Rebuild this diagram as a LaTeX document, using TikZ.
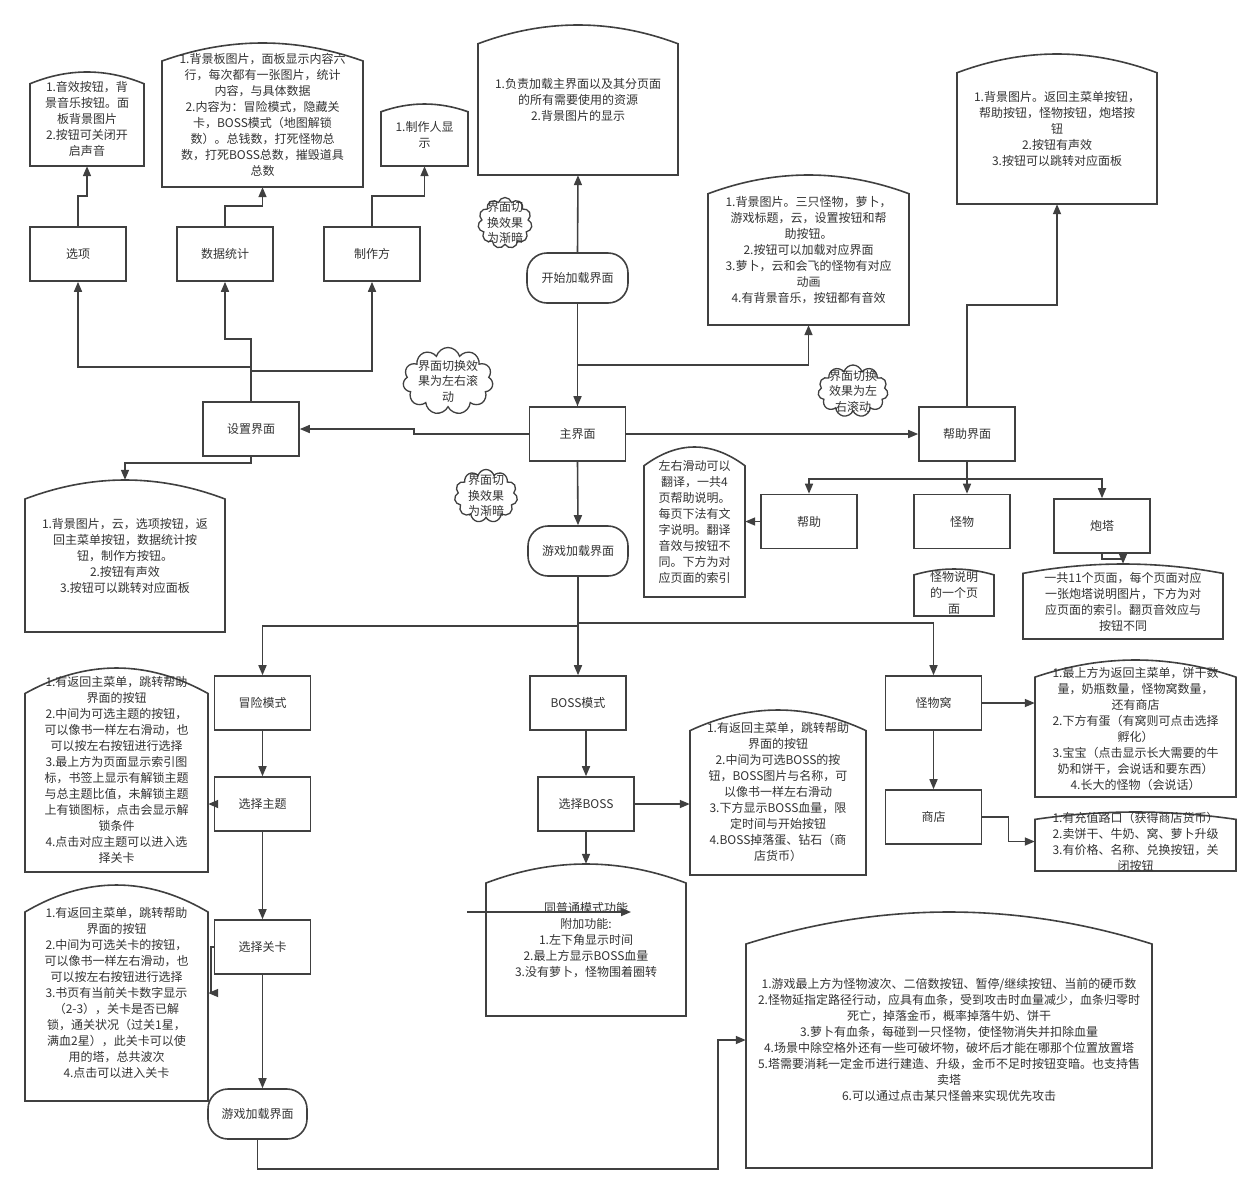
\documentclass[tikz,border=0pt]{standalone}
\usepackage{fontspec}
\setmainfont{Noto Sans CJK SC}
\usetikzlibrary{arrows.meta,shapes.symbols}
\definecolor{linec}{HTML}{404040}
\definecolor{txtc}{HTML}{333333}
\newcommand\myfs{\fontsize{12pt}{16pt}\selectfont}
\newcommand\mycard[6]{%
  \pgfmathsetmacro\cardA{0.125*(#5-#3)}%
  \pgfmathsetmacro\cardW{(#4-#2)/3}%
  \draw[cardline] ({#2},{#5}) -- ({#2},{#3+\cardA}) .. controls ({#2+\cardW},{#3-\cardA/3}) and ({#4-\cardW},{#3-\cardA/3}) .. ({#4},{#3+\cardA}) -- ({#4},{#5}) -- cycle;
  \node[cardtext, minimum width={(#4-#2)*1pt}, minimum height={(#5-#3)*1pt}] (#1) at ({(#2+#4)/2},{(#3+#5)/2}) {#6};
}
\tikzset{
  box/.style={draw=linec, line width=1.6pt, fill=white, minimum width=96pt, minimum height=54pt, inner sep=0pt, font=\myfs, text=txtc},
  stadium/.style={box, rounded corners=20pt, minimum width=100pt, minimum height=50pt},
  conn/.style={draw=linec, line width=1.6pt, -{Triangle[length=10pt,width=8pt]}},
  cardline/.style={draw=linec, line width=1.6pt, fill=white},
  cardtext/.style={inner sep=0pt, align=center, font=\myfs, text=txtc},
  cloudshape/.style={cloud, cloud puffs=11, cloud ignores aspect, draw=linec, line width=1.3pt, fill=white, inner sep=0pt},
  cloudtext/.style={inner sep=0pt, align=center, font=\fontsize{12pt}{15.5pt}\selectfont, text=txtc},
}
\begin{document}
\begin{tikzpicture}[x=1pt,y=-1pt]
\useasboundingbox (0,0) rectangle (1260,1195);
\fill[white] (0,0) rectangle (1260,1195);

% ---------- cards ----------
\mycard{nA}{30}{72}{144}{166}{1.音效按钮，背\\景音乐按钮。面\\板背景图片\\2.按钮可关闭开\\启声音}
\mycard{nB}{162}{43}{363}{187}{1.背景板图片，面板显示内容六\\行，每次都有一张图片，统计\\内容，与具体数据\\2.内容为：冒险模式，隐藏关\\卡，BOSS模式（地图解锁\\数）。总钱数，打死怪物总\\数，打死BOSS总数，摧毁道具\\总数}
\mycard{nC}{381}{104}{468}{166}{1.制作人显\\示}
\mycard{nF}{478}{25}{678}{175}{1.负责加载主界面以及其分页面\\的所有需要使用的资源\\2.背景图片的显示}
\mycard{nE}{708}{175}{909}{325}{1.背景图片。三只怪物，萝卜，\\游戏标题，云，设置按钮和帮\\助按钮。\\2.按钮可以加载对应界面\\3.萝卜，云和会飞的怪物有对应\\动画\\4.有背景音乐，按钮都有音效}
\mycard{nI}{957}{54}{1157}{204}{1.背景图片。返回主菜单按钮，\\帮助按钮，怪物按钮，炮塔按\\钮\\2.按钮有声效\\3.按钮可以跳转对应面板}
\mycard{nD}{25}{480}{225}{632}{1.背景图片，云，选项按钮，返\\回主菜单按钮，数据统计按\\钮，制作方按钮。\\2.按钮有声效\\3.按钮可以跳转对应面板}
\mycard{nHelp}{644}{447}{745}{597}{左右滑动可以\\翻译，一共4\\页帮助说明。\\每页下法有文\\字说明。翻译\\音效与按钮不\\同。下方为对\\应页面的索引}
\mycard{nH}{914}{569}{994}{616}{怪物说明\\的一个页\\面}
\mycard{nG}{1023}{564}{1223}{639}{一共11个页面，每个页面对应\\一张炮塔说明图片，下方为对\\应页面的索引。翻页音效应与\\按钮不同}
\mycard{nJ}{25}{668}{208}{872}{1.有返回主菜单，跳转帮助\\界面的按钮\\2.中间为可选主题的按钮，\\可以像书一样左右滑动，也\\可以按左右按钮进行选择\\3.最上方为页面显示索引图\\标，书签上显示有解锁主题\\与总主题比值，未解锁主题\\上有锁图标，点击会显示解\\锁条件\\4.点击对应主题可以进入选\\择关卡}
\mycard{nK}{25}{885}{208}{1101}{1.有返回主菜单，跳转帮助\\界面的按钮\\2.中间为可选关卡的按钮，\\可以像书一样左右滑动，也\\可以按左右按钮进行选择\\3.书页有当前关卡数字显示\\（2-3），关卡是否已解\\锁，通关状况（过关1星，\\满血2星），此关卡可以使\\用的塔，总共波次\\4.点击可以进入关卡}
\mycard{nM}{690}{710}{866}{875}{1.有返回主菜单，跳转帮助\\界面的按钮\\2.中间为可选BOSS的按\\钮，BOSS图片与名称，可\\以像书一样左右滑动\\3.下方显示BOSS血量，限\\定时间与开始按钮\\4.BOSS掉落蛋、钻石（商\\店货币）}
\mycard{nN}{486}{864}{686}{1016}{同普通模式功能\\附加功能:\\1.左下角显示时间\\2.最上方显示BOSS血量\\3.没有萝卜，怪物围着圈转}
\mycard{nO}{1035}{660}{1236}{797}{1.最上方为返回主菜单，饼干数\\量，奶瓶数量，怪物窝数量，\\还有商店\\2.下方有蛋（有窝则可点击选择\\孵化）\\3.宝宝（点击显示长大需要的牛\\奶和饼干，会说话和要东西）\\4.长大的怪物（会说话）}
\mycard{nP}{1035}{812}{1236}{871}{1.有充值路口（获得商店货币）\\2.卖饼干、牛奶、窝、萝卜升级\\3.有价格、名称、兑换按钮，关\\闭按钮}
\mycard{nL}{746}{912}{1152}{1168}{1.游戏最上方为怪物波次、二倍数按钮、暂停/继续按钮、当前的硬币数\\2.怪物延指定路径行动，应具有血条，受到攻击时血量减少，血条归零时\\死亡，掉落金币，概率掉落牛奶、饼干\\3.萝卜有血条，每碰到一只怪物，使怪物消失并扣除血量\\4.场景中除空格外还有一些可破坏物，破坏后才能在哪那个位置放置塔\\5.塔需要消耗一定金币进行建造、升级，金币不足时按钮变暗。也支持售\\卖塔\\6.可以通过点击某只怪兽来实现优先攻击}

% ---------- boxes ----------
\node[box] (xuanxiang) at (78,254) {选项};
\node[box] (shuju) at (225,254) {数据统计};
\node[box] (zhizuo) at (372,254) {制作方};
\node[box] (shezhi) at (251,429) {设置界面};
\node[box] (zhujm) at (577.5,434) {主界面};
\node[box] (bzjm) at (967,434) {帮助界面};
\node[box] (bangzhu) at (809,521.5) {帮助};
\node[box] (guaiwu) at (962,521.5) {怪物};
\node[box] (paota) at (1102,526) {炮塔};
\node[box] (maoxian) at (262.5,703) {冒险模式};
\node[box] (xzzt) at (262.5,804) {选择主题};
\node[box] (xzgk) at (262.5,947) {选择关卡};
\node[box] (boss) at (578,703) {BOSS模式};
\node[box] (xzboss) at (586,804) {选择BOSS};
\node[box] (gww) at (933.5,703) {怪物窝};
\node[box] (shop) at (933.5,817) {商店};
\node[stadium, minimum width=101pt] (ksjz) at (577.5,278) {开始加载界面};
\node[stadium] (yxjz1) at (578,551) {游戏加载界面};
\node[stadium, minimum width=99pt] (yxjz2) at (257.5,1114) {游戏加载界面};

% ---------- clouds ----------
\node[cloudshape, minimum width=54pt, minimum height=51pt] (c1) at (505,223) {};
\node[cloudtext] (c1t) at (c1) {界面切\\换效果\\为渐暗};
\node[cloudshape, minimum width=90pt, minimum height=67pt] (c2) at (448,381) {};
\node[cloudtext] (c2t) at (c2) {界面切换效\\果为左右滚\\动};
\node[cloudshape, minimum width=70pt, minimum height=52pt] (c3) at (853,391) {};
\node[cloudtext] (c3t) at (c3) {界面切换\\效果为左\\右滚动};
\node[cloudshape, minimum width=63pt, minimum height=53pt] (c4) at (486,496) {};
\node[cloudtext] (c4t) at (c4) {界面切\\换效果\\为渐暗};

% ---------- connectors ----------
\draw[conn] (ksjz.north) -- (nF.south);
\draw[conn] (ksjz.south) -- (zhujm.north);
\draw[conn] (zhujm.north) -- ++(0,-41) -| (nE.south);
\draw[conn] (zhujm.west) -- ++(-115,0) |- (shezhi.east);
\draw[conn] (zhujm.east) -- (bzjm.west);
\draw[conn] (zhujm.south) -- (yxjz1.north);
\draw[conn] (shezhi.north) -- ++(0,-34) -| (xuanxiang.south);
\draw[conn] (shezhi.north) -- ++(0,-62) -| (shuju.south);
\draw[conn] (shezhi.north) -- ++(0,-30) -| (zhizuo.south);
\draw[conn] (shezhi.south) -- ++(0,6) -| (nD.north);
\draw[conn] (xuanxiang.north) -- ++(0,-30) -| (nA.south);
\draw[conn] (shuju.north) -- ++(0,-20) -| (nB.south);
\draw[conn] (zhizuo.north) -- ++(0,-30) -| (nC.south);
\draw[conn] (bzjm.north) -- ++(0,-101) -| (nI.south);
\draw[conn] (bzjm.south) -- (bzjm.south |- guaiwu.north);
\draw[conn] (bzjm.south) -- ++(0,17) -| (paota.north);
\draw[conn] (bzjm.south) -- ++(0,17) -| (bangzhu.north);
\draw[conn] (bangzhu.west) -- (bangzhu.west -| nHelp.east);
\draw[conn] (paota.south) -- ++(0,5) -| (nG.north);
\draw[conn] (yxjz1.south) -- ++(0,49) -| (maoxian.north);
\draw[conn] (yxjz1.south) -- (boss.north);
\draw[conn] (yxjz1.south) -- ++(0,46) -| (gww.north);
\draw[conn] (maoxian.south) -- (xzzt.north);
\draw[conn] (xzzt.west) -- (xzzt.west -| nJ.east);
\draw[conn] (xzzt.south) -- (xzgk.north);
\draw[conn] (xzgk.west) -- ++(-3,0) |- (nK.east);
\draw[conn] (xzgk.south) -- (xzgk.south |- yxjz2.north);
\coordinate (lk) at (718,1169);
\draw[conn] (yxjz2.south) |- (lk) |- (nL.west);
\draw[conn] (xzboss.north |- boss.south) -- (xzboss.north);
\draw[conn] (xzboss.east) -- (xzboss.east -| nM.west);
\draw[conn] (xzboss.south) -- (nN.north);
\coordinate (s1) at (467,912);
\coordinate (s2) at (631,912);
\draw[conn] (s1) -- (s2);
\draw[conn] (gww.east) -- (gww.east -| nO.west);
\draw[conn] (gww.south) -- (shop.north);
\draw[conn] (shop.east) -- ++(26,0) |- (nP.west);
\end{tikzpicture}
\end{document}
